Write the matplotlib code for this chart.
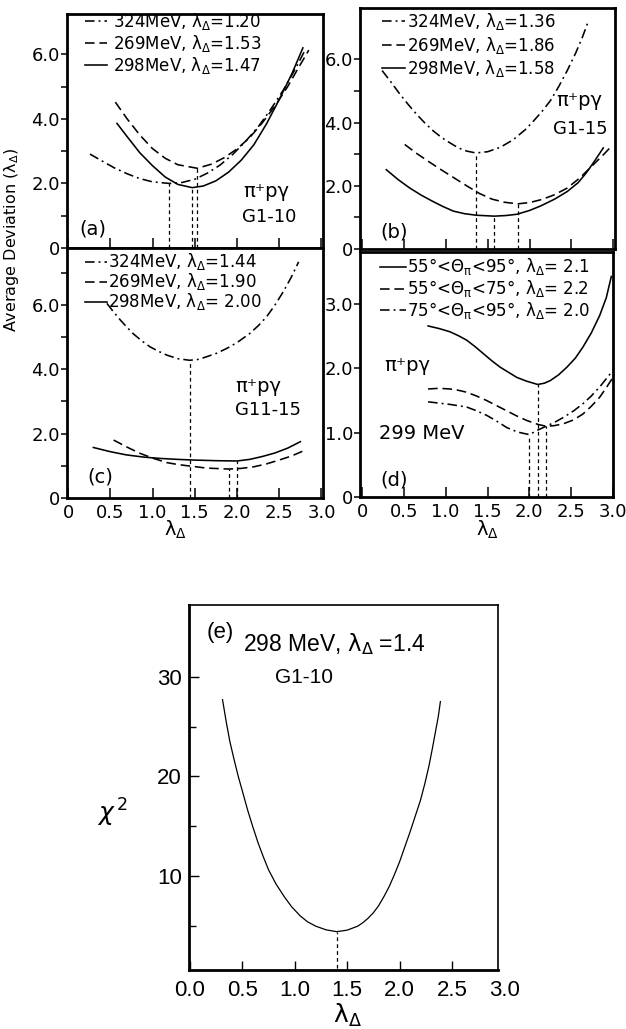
import matplotlib
matplotlib.use("Agg")
import matplotlib.pyplot as plt
import matplotlib.transforms as mtransforms

plt.rcParams['font.family'] = ['DejaVu Sans']
plt.rcParams['mathtext.fontset'] = 'dejavusans'

# ---------------- data ----------------
# panel (a)  pi+ p gamma  G1-10
a_324_x = [0.26, 0.4, 0.55, 0.7, 0.85, 1.0, 1.2, 1.35, 1.5, 1.65, 1.8, 1.95, 2.1, 2.25, 2.4, 2.55, 2.68, 2.8]
a_324_y = [2.91, 2.7, 2.48, 2.3, 2.15, 2.05, 2.0, 2.03, 2.13, 2.32, 2.57, 2.9, 3.3, 3.75, 4.3, 4.9, 5.5, 6.1]
a_269_x = [0.56, 0.7, 0.85, 1.0, 1.15, 1.3, 1.53, 1.7, 1.85, 2.0, 2.15, 2.3, 2.45, 2.6, 2.72, 2.85]
a_269_y = [4.52, 4.0, 3.5, 3.08, 2.78, 2.58, 2.47, 2.6, 2.8, 3.07, 3.42, 3.88, 4.4, 5.0, 5.55, 6.13]
a_298_x = [0.58, 0.7, 0.85, 1.0, 1.15, 1.3, 1.47, 1.6, 1.75, 1.9, 2.05, 2.2, 2.35, 2.5, 2.65, 2.78]
a_298_y = [3.86, 3.45, 2.95, 2.55, 2.2, 1.97, 1.87, 1.92, 2.08, 2.35, 2.72, 3.2, 3.85, 4.6, 5.4, 6.2]
a_min_x = [1.20, 1.53, 1.47]
a_min_y = [2.0, 2.47, 1.87]
a_labels = [r"324MeV, $\mathrm{\lambda_\Delta}$=1.20",
            r"269MeV, $\mathrm{\lambda_\Delta}$=1.53",
            r"298MeV, $\mathrm{\lambda_\Delta}$=1.47"]

# panel (b)  G1-15
b_324_x = [0.24, 0.35, 0.45, 0.55, 0.65, 0.75, 0.85, 0.95, 1.05, 1.15, 1.25, 1.36, 1.5, 1.65,
           1.8, 1.95, 2.05, 2.15, 2.25, 2.35, 2.45, 2.55, 2.63, 2.70]
b_324_y = [5.65, 5.27, 4.91, 4.58, 4.27, 3.99, 3.74, 3.53, 3.36, 3.2, 3.1, 3.04, 3.08, 3.22,
           3.45, 3.78, 4.06, 4.36, 4.7, 5.15, 5.65, 6.2, 6.7, 7.2]
b_269_x = [0.51, 0.65, 0.8, 0.95, 1.1, 1.25, 1.4, 1.55, 1.7, 1.86, 2.0, 2.15, 2.3, 2.45, 2.6, 2.75, 2.88, 2.98]
b_269_y = [3.31, 3.03, 2.76, 2.5, 2.25, 2.0, 1.76, 1.58, 1.48, 1.43, 1.47, 1.57, 1.72, 1.93, 2.25, 2.64, 2.98, 3.26]
b_298_x = [0.29, 0.43, 0.57, 0.71, 0.85, 0.97, 1.09, 1.22, 1.36, 1.58, 1.72, 1.85, 2.0, 2.13,
           2.3, 2.45, 2.58, 2.68, 2.78, 2.88]
b_298_y = [2.51, 2.2, 1.93, 1.7, 1.5, 1.34, 1.2, 1.12, 1.07, 1.04, 1.06, 1.1, 1.22, 1.36,
           1.58, 1.82, 2.1, 2.42, 2.8, 3.2]
b_min_x = [1.36, 1.86, 1.58]
b_min_y = [3.04, 1.43, 1.04]
b_labels = [r"324MeV, $\mathrm{\lambda_\Delta}$=1.36",
            r"269MeV, $\mathrm{\lambda_\Delta}$=1.86",
            r"298MeV, $\mathrm{\lambda_\Delta}$=1.58"]

# panel (c)  G11-15
c_324_x = [0.46, 0.54, 0.62, 0.7, 0.77, 0.87, 0.97, 1.07, 1.17, 1.3, 1.44, 1.55, 1.64, 1.76,
           1.88, 2.0, 2.15, 2.25, 2.35, 2.45, 2.55, 2.64, 2.73]
c_324_y = [6.05, 5.78, 5.53, 5.3, 5.11, 4.89, 4.7, 4.56, 4.44, 4.33, 4.28, 4.31, 4.39, 4.5,
           4.65, 4.83, 5.11, 5.35, 5.63, 6.0, 6.42, 6.85, 7.34]
c_269_x = [0.54, 0.7, 0.85, 1.0, 1.17, 1.3, 1.42, 1.64, 1.90, 2.05, 2.2, 2.35, 2.5, 2.65, 2.79]
c_269_y = [1.8, 1.58, 1.39, 1.24, 1.1, 1.04, 1.0, 0.93, 0.9, 0.92, 0.97, 1.06, 1.18, 1.31, 1.47]
c_298_x = [0.30, 0.5, 0.69, 0.9, 1.09, 1.3, 1.48, 1.75, 2.0, 2.15, 2.3, 2.45, 2.6, 2.75]
c_298_y = [1.57, 1.44, 1.34, 1.27, 1.23, 1.2, 1.18, 1.16, 1.15, 1.2, 1.29, 1.4, 1.55, 1.75]
c_min_x = [1.44, 1.90, 2.00]
c_min_y = [4.28, 0.9, 1.15]
c_labels = [r"324MeV, $\mathrm{\lambda_\Delta}$=1.44",
            r"269MeV, $\mathrm{\lambda_\Delta}$=1.90",
            r"298MeV, $\mathrm{\lambda_\Delta}$= 2.00"]

# panel (d)  299 MeV, angular ranges
d_5595_x = [0.79, 0.92, 1.05, 1.15, 1.25, 1.35, 1.45, 1.55, 1.65, 1.75, 1.85, 1.97, 2.1, 2.18,
            2.25, 2.35, 2.45, 2.55, 2.64, 2.74, 2.84, 2.92, 2.98]
d_5595_y = [2.66, 2.62, 2.57, 2.51, 2.44, 2.34, 2.23, 2.12, 2.02, 1.94, 1.86, 1.8, 1.75, 1.77,
            1.81, 1.9, 2.02, 2.16, 2.33, 2.55, 2.82, 3.1, 3.43]
d_5575_x = [0.79, 0.92, 1.05, 1.15, 1.25, 1.37, 1.49, 1.61, 1.73, 1.85, 1.97, 2.1, 2.2, 2.3,
            2.41, 2.53, 2.64, 2.74, 2.84, 2.92, 3.0]
d_5575_y = [1.68, 1.69, 1.68, 1.66, 1.63, 1.57, 1.5, 1.42, 1.34, 1.26, 1.19, 1.13, 1.1, 1.11,
            1.14, 1.2, 1.29, 1.41, 1.55, 1.7, 1.86]
d_7595_x = [0.79, 0.92, 1.05, 1.15, 1.25, 1.37, 1.49, 1.61, 1.73, 1.86, 2.0, 2.1, 2.2, 2.3,
            2.41, 2.53, 2.64, 2.74, 2.84, 2.92, 3.0]
d_7595_y = [1.48, 1.46, 1.44, 1.42, 1.4, 1.34, 1.27, 1.18, 1.08, 1.01, 0.97, 1.04, 1.1, 1.16,
            1.24, 1.34, 1.45, 1.57, 1.71, 1.84, 1.97]
d_min_x = [2.1, 2.2, 2.0]
d_min_y = [1.75, 1.1, 0.97]
d_labels = [r"55°<$\mathrm{\Theta_\pi}$<95°, $\mathrm{\lambda_\Delta}$= 2.1",
            r"55°<$\mathrm{\Theta_\pi}$<75°, $\mathrm{\lambda_\Delta}$= 2.2",
            r"75°<$\mathrm{\Theta_\pi}$<95°, $\mathrm{\lambda_\Delta}$= 2.0"]

# panel (e)  chi^2, 298 MeV G1-10
e_x = [0.31, 0.345, 0.38, 0.42, 0.46, 0.5, 0.55, 0.6, 0.65, 0.7, 0.75, 0.82, 0.9, 0.97, 1.05,
       1.12, 1.2, 1.3, 1.4, 1.5, 1.6, 1.65, 1.7, 1.75, 1.8, 1.85, 1.9, 1.95, 2.0, 2.05, 2.1,
       2.15, 2.2, 2.24, 2.28, 2.31, 2.34, 2.37, 2.39]
e_y = [27.7, 25.5, 23.5, 21.7, 20.0, 18.5, 16.6, 14.9, 13.3, 11.9, 10.6, 9.2, 7.9, 6.9, 6.0,
       5.4, 4.95, 4.58, 4.4, 4.55, 4.95, 5.3, 5.75, 6.3, 7.0, 7.9, 8.9, 10.1, 11.4, 12.9, 14.4,
       16.0, 17.6, 19.2, 21.0, 22.6, 24.3, 26.0, 27.5]
e_min_x = 1.4
e_min_y = 4.4

x_ticks = [0, 0.5, 1.0, 1.5, 2.0, 2.5, 3.0]
x_ticklabels = ["0", "0.5", "1.0", "1.5", "2.0", "2.5", "3.0"]

# ---------------- styles ----------------
SOLID = '-'
DASH = (0, (6, 3))
DDOT = (0, (6, 2.5, 1.2, 2.5))
VDASH = (0, (3, 2.5))
LW = 1.15

W, H = 626, 1029
fig = plt.figure(figsize=(W / 100, H / 100), dpi=100)


def rect(x0, y0, x1, y1):
    return [x0 / W, 1 - y1 / H, (x1 - x0) / W, (y1 - y0) / H]


ax_a = fig.add_axes(rect(67, 14, 323, 248))
ax_b = fig.add_axes(rect(360, 8, 615, 249))
ax_c = fig.add_axes(rect(67, 248, 323, 498))
ax_d = fig.add_axes(rect(360, 252, 613, 497))
ax_e = fig.add_axes(rect(189, 605, 498, 970))


def style_top(ax, ylim, ymaj, ylab, ymin, xlabels, xlim):
    ax.set_xlim(*xlim)
    ax.set_ylim(*ylim)
    ax.set_yticks(ymaj)
    ax.set_yticklabels(ylab, fontsize=13)
    ax.set_yticks(ymin, minor=True)
    ax.tick_params(axis='y', which='both', direction='out', length=4, width=1.1, pad=1)
    ax.set_xticks([t for t in x_ticks])
    if xlabels:
        ax.set_xticklabels(x_ticklabels, fontsize=13)
    else:
        ax.set_xticklabels([])
    ax.tick_params(axis='x', which='both', direction='in', length=7, width=1.1, pad=4)
    for s in ax.spines.values():
        s.set_linewidth(2.0)


def legend(ax, rows, x0, x1, xt, styles, labels, fs=12):
    for y, ls, lab in zip(rows, styles, labels):
        ax.plot([x0, x1], [y, y], transform=ax.transAxes, ls=ls, color='k', lw=LW, clip_on=False)
        ax.text(xt, y, lab, transform=ax.transAxes, va='center', ha='left', fontsize=fs)


def mins(ax, xs, ys):
    ax.vlines(xs, 0, ys, colors='k', linestyles=[VDASH], lw=0.9)


# ---- (a)
ax = ax_a
ax.plot(a_324_x, a_324_y, color='k', ls=DDOT, lw=LW)
ax.plot(a_269_x, a_269_y, color='k', ls=DASH, lw=LW)
ax.plot(a_298_x, a_298_y, color='k', ls=SOLID, lw=LW)
mins(ax, a_min_x, a_min_y)
style_top(ax, (0, 7.25), [0, 2, 4, 6], ["0", "2.0", "4.0", "6.0"], [1, 3, 5], False, (-0.012, 3.018))
legend(ax, [0.970, 0.876, 0.782], 0.07, 0.156, 0.178, [DDOT, DASH, SOLID], a_labels)
ax.text(2.07, 1.75, "π⁺pγ", fontsize=14, ha='left', va='center')
ax.text(2.06, 0.95, "G1-10", fontsize=13, ha='left', va='center')
ax.text(0.13, 0.6, "(a)", fontsize=14, ha='left', va='center')

# ---- (b)
ax = ax_b
ax.plot(b_324_x, b_324_y, color='k', ls=DDOT, lw=LW)
ax.plot(b_269_x, b_269_y, color='k', ls=DASH, lw=LW)
ax.plot(b_298_x, b_298_y, color='k', ls=SOLID, lw=LW)
mins(ax, b_min_x, b_min_y)
style_top(ax, (0, 7.63), [0, 2, 4, 6], ["0", "2.0", "4.0", "6.0"], [1, 3, 5], False, (-0.024, 3.02))
legend(ax, [0.946, 0.846, 0.751], 0.086, 0.176, 0.184, [DDOT, DASH, SOLID], b_labels)
ax.text(2.32, 4.7, "π⁺pγ", fontsize=14, ha='left', va='center')
ax.text(2.28, 3.8, "G1-15", fontsize=13, ha='left', va='center')
ax.text(0.22, 0.55, "(b)", fontsize=14, ha='left', va='center')

# ---- (c)
ax = ax_c
ax.plot(c_324_x, c_324_y, color='k', ls=DDOT, lw=LW)
ax.plot(c_269_x, c_269_y, color='k', ls=DASH, lw=LW)
ax.plot(c_298_x, c_298_y, color='k', ls=SOLID, lw=LW)
mins(ax, c_min_x, c_min_y)
style_top(ax, (0, 7.77), [0, 2, 4, 6], ["0", "2.0", "4.0", "6.0"], [1, 3, 5, 7], True, (-0.012, 3.018))
legend(ax, [0.944, 0.864, 0.784], 0.07, 0.156, 0.16, [DDOT, DASH, SOLID], c_labels)
ax.text(1.98, 3.45, "π⁺pγ", fontsize=14, ha='left', va='center')
ax.text(1.98, 2.73, "G11-15", fontsize=13, ha='left', va='center')
ax.text(0.23, 0.65, "(c)", fontsize=14, ha='left', va='center')

# ---- (d)
ax = ax_d
ax.plot(d_5595_x, d_5595_y, color='k', ls=SOLID, lw=LW)
ax.plot(d_5575_x, d_5575_y, color='k', ls=DASH, lw=LW)
ax.plot(d_7595_x, d_7595_y, color='k', ls=DDOT, lw=LW)
mins(ax, d_min_x, d_min_y)
style_top(ax, (0, 3.81), [0, 1, 2, 3], ["0", "1.0", "2.0", "3.0"], [], True, (-0.024, 3.0))
legend(ax, [0.939, 0.849, 0.763], 0.079, 0.182, 0.186, [SOLID, DASH, DDOT], d_labels)
ax.text(0.27, 2.05, "π⁺pγ", fontsize=14, ha='left', va='center')
ax.text(0.2, 0.98, "299 MeV", fontsize=14, ha='left', va='center')
ax.text(0.22, 0.27, "(d)", fontsize=14, ha='left', va='center')

# x labels for (c), (d)
fig.text(175 / W, 1 - 530 / H, r"$\mathrm{\lambda_\Delta}$", fontsize=14, ha='center', va='center')
fig.text(487 / W, 1 - 530 / H, r"$\mathrm{\lambda_\Delta}$", fontsize=14, ha='center', va='center')
fig.text(12 / W, 1 - 240 / H, r"Average Deviation ($\mathrm{\lambda_\Delta}$)", fontsize=11.5,
         rotation=90, ha='center', va='center')

# ---- (e)
ax = ax_e
ax.plot(e_x, e_y, color='k', lw=0.9)
ax.vlines([e_min_x], 0, [e_min_y], colors='k', linestyles=[VDASH], lw=0.9)
ax.set_xlim(-0.01, 2.94)
ax.set_ylim(0.55, 37.2)
ax.set_xticks([0, 0.5, 1.0, 1.5, 2.0, 2.5])
ax.set_xticklabels(["0.0", "0.5", "1.0", "1.5", "2.0", "2.5"], fontsize=16, family='Liberation Sans')
ax.set_yticks([10, 20, 30])
ax.set_yticklabels(["10", "20", "30"], fontsize=16, family='Liberation Sans')
ax.set_yticks([5, 15, 25], minor=True)
ax.tick_params(axis='x', which='both', direction='in', length=6.5, width=1, pad=7)
ax.tick_params(axis='y', which='major', direction='in', length=7, width=1, pad=5)
ax.tick_params(axis='y', which='minor', direction='in', length=5, width=1)
trans = mtransforms.blended_transform_factory(ax.transData, ax.transAxes)
ax.text(3.0, -0.0275, "3.0", transform=trans, ha='center', va='top', fontsize=16,
        family='Liberation Sans', clip_on=False)
ax.spines['left'].set_linewidth(2.0)
ax.spines['bottom'].set_linewidth(2.0)
ax.spines['top'].set_linewidth(1.2)
ax.spines['right'].set_linewidth(1.2)
ax.text(0.16, 34.4, "(e)", fontsize=16, family='Liberation Sans', ha='left', va='center')
ax.text(0.51, 33.3, r"298 MeV, $\mathrm{\lambda_\Delta}$ =1.4", fontsize=16.5,
        family='Liberation Sans', ha='left', va='center')
ax.text(0.81, 29.9, "G1-10", fontsize=15, family='Liberation Sans', ha='left', va='center')

fig.text(113 / W, 1 - 813 / H, r"$\chi^{\,2}$", fontsize=18, ha='center', va='center')
fig.text(347 / W, 1 - 1015 / H, r"$\mathrm{\lambda_\Delta}$", fontsize=18, ha='center', va='center')

fig.savefig("out.png", dpi=100)
